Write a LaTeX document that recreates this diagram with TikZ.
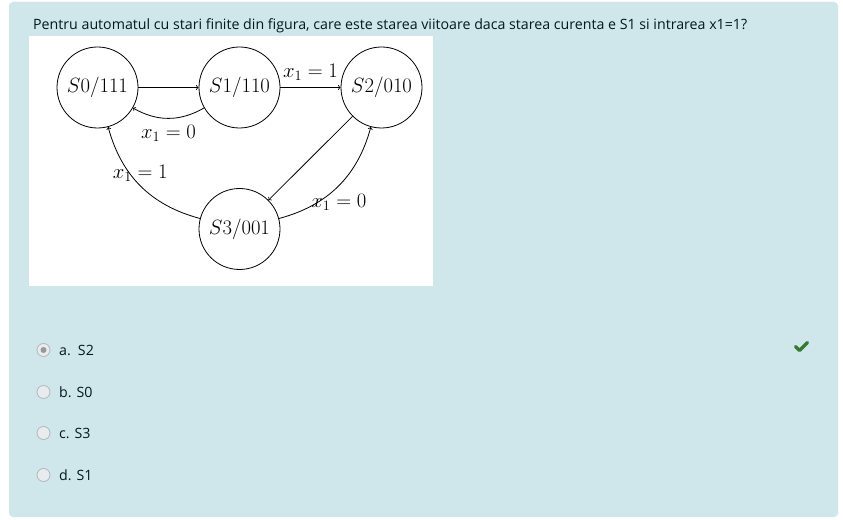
\documentclass[tikz,border=0pt]{standalone}
\usepackage{fontspec}
\newfontfamily\uifont{Open Sans}
\definecolor{panel}{RGB}{207,230,234}
\definecolor{uitext}{RGB}{0,26,30}
\definecolor{radiofill}{RGB}{233,236,239}
\definecolor{radioborder}{RGB}{180,183,185}
\definecolor{radiodot}{RGB}{150,152,154}
\definecolor{okgreen}{RGB}{53,122,50}
\begin{document}
\begin{tikzpicture}[x=1bp,y=-1bp,
  state/.style={circle,draw,line width=0.8bp,minimum size=81bp,inner sep=0pt,font=\fontsize{19.4}{23}\selectfont},
  lbl/.style={font=\fontsize{19.4}{23}\selectfont,inner sep=6.5bp},
  edge/.style={->,line width=0.8bp},
  ui/.style={font=\uifont\fontsize{14.25}{17}\selectfont,text=uitext,anchor=base west,inner sep=0pt},
  radio/.style={circle,draw=radioborder,fill=radiofill,minimum size=13bp,inner sep=0pt,line width=0.8bp}
]
\useasboundingbox (0,0) rectangle (843,520);
\fill[white] (0,0) rectangle (843,520);
\fill[panel, rounded corners=4bp] (9,2) rectangle (838,517);
\fill[white] (29,36) rectangle (433,286);
\node[ui] (q) at (33,30) {Pentru automatul cu stari finite din figura, care este starea viitoare daca starea curenta e S1 si intrarea x1=1?};
\node[state] (s0) at (97.5,87.5) {$S0/111$};
\node[state] (s1) at (239.5,87.5) {$S1/110$};
\node[state] (s2) at (381.5,87.5) {$S2/010$};
\node[state] (s3) at (239.5,229) {$S3/001$};
\draw[edge] (s0) -- (s1);
\draw[edge] (s1) -- node[lbl,above]{$x_1=1$} (s2);
\draw[edge] (s1) to[bend left=30] node[lbl,below]{$x_1=0$} (s0);
\draw[edge] (s2) -- (s3);
\draw[edge] (s3) to[bend right=30] node[lbl,pos=0.3,xshift=21bp]{$x_1=0$} (s2);
\draw[edge] (s3) to[bend left=30] node[lbl,pos=0.63,xshift=10.5bp]{$x_1=1$} (s0);
\node[radio] (ra) at (43.5,350) {};
\fill[radiodot] (ra.center) circle (3bp);
\node[radio] (rb) at (43.5,392) {};
\node[radio] (rc) at (43.5,433) {};
\node[radio] (rd) at (43.5,475) {};
\node[ui] (ta) at (59,355.5) {a.\hspace{0.5em}S2};
\node[ui] (tb) at (59,397.5) {b. S0};
\node[ui] (tc) at (59,438.5) {c. S3};
\node[ui] (td) at (59,480.5) {d. S1};
\coordinate (c1) at (795.5,346.5);
\coordinate (c2) at (799.5,350.5);
\coordinate (c3) at (807.5,342.5);
\draw[okgreen,line width=3.2bp,line cap=round,line join=round] (c1) -- (c2) -- (c3);
\end{tikzpicture}
\end{document}
